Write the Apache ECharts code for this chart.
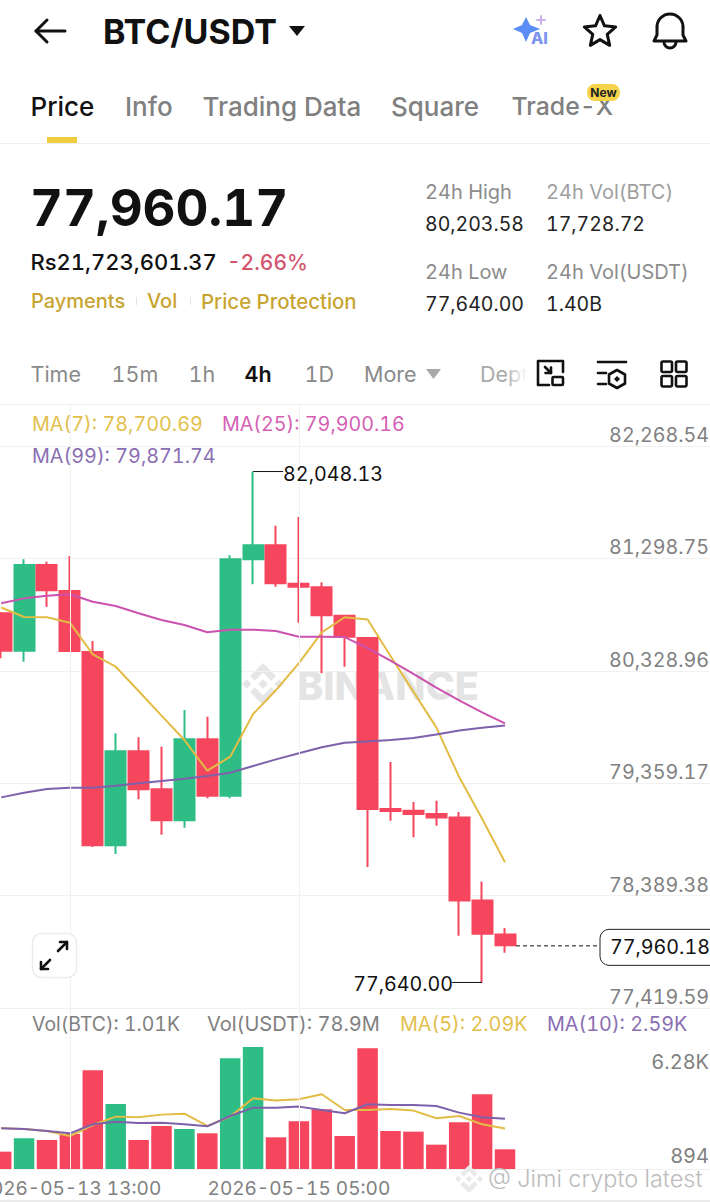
<!DOCTYPE html>
<html><head><meta charset="utf-8">
<style>html,body{margin:0;padding:0;background:#fff}#c{width:710px;height:1202px}
text{font-variant-numeric:tabular-nums !important}</style>
<script src="https://cdn.jsdelivr.net/npm/echarts@6/dist/echarts.min.js"></script>
</head><body><div id="c"></div>
<script>
const times = ['2026-05-13 01:00','2026-05-13 05:00','2026-05-13 09:00','2026-05-13 13:00','2026-05-13 17:00','2026-05-13 21:00','2026-05-14 01:00','2026-05-14 05:00','2026-05-14 09:00','2026-05-14 13:00','2026-05-14 17:00','2026-05-14 21:00','2026-05-15 01:00','2026-05-15 05:00','2026-05-15 09:00','2026-05-15 13:00','2026-05-15 17:00','2026-05-15 21:00','2026-05-16 01:00','2026-05-16 05:00','2026-05-16 09:00','2026-05-16 13:00','2026-05-16 17:00'];
const futureSlots = ['','','','','','','','',''];
const opens  = [80825,80502,81242,81017,80491,78823,79634,79306,79039,79738,79251,81291,81412,81080,81049,80804,80612,79137,79122,79093,79063,78348,78054];
const closes = [80502,81242,81023,80500,78823,79634,79306,79039,79738,79251,81291,81412,81084,81055,80808,80623,79137,79119,79093,79063,78348,78060,77960.18];
const lows   = [80437,80407,80882,80500,78809,78748,79220,78915,78975,79229,79229,81075,81055,80744,80307,80364,78636,79036,78892,78991,78043,77640,77896];
const highs  = [80836,81291,81270,81319,80586,79790,79755,79674,79991,79933,81325,82048.13,81581,81656,81093,80810,80620,79542,79197,79207,79110,78509,78110];
const ma7  = [80875,80793,80791,80744,80471,80364,80155,79942,79732,79467,79588,79956,80163,80396,80661,80791,80772,80457,80149,79841,79412,79053,78677];
const ma25 = [80911,80954,80977,80989,80925,80888,80825,80767,80724,80661,80684,80684,80672,80623,80623,80620,80525,80416,80303,80183,80074,79971,79875];
const ma99 = [79237,79277,79309,79320,79320,79337,79358,79378,79398,79421,79449,79507,79565,79617,79669,79708,79720,79732,79749,79779,79813,79837,79858];
const volumes = [893,1580,1494,1803,5082,3348,1494,2215,2060,1837,5700,6280,1631,2455,3073,1700,6215,1957,1923,1253,2404,3846,1013];
const volMa5  = [2095,2060,1957,1700,2266,2696,2661,2799,2850,2215,2696,3640,3520,3589,3846,3039,3039,3091,3005,2610,2730,2301,2090];
const volMa10 = [2095,2060,1957,1837,2301,2438,2369,2387,2301,2198,2730,3159,3159,3211,3039,2867,3331,3297,3297,3245,2902,2661,2590];
const priceTicks = [77419.59,78389.38,79359.17,80328.96,81298.75,82268.54];
const volTicks = [894,6280];
const volTickNames = {894:'894',6280:'6.28K'};
const dateLabelIndexes = [3,13];
const lastPrice = 77960.18, highPrice = 82048.13, lowPrice = 77640.00;

const FONT = 'Inter, "Noto Sans", sans-serif';
const RED='#F6465D', GREEN='#2EBD85', C7='#E3BC45', C25='#CB52AE', C99='#7F60AA';
const GRID='#f1f1f1', LABEL='#808080';

const categories = times.concat(futureSlots);
const candleData = opens.map((o,i)=>[o,closes[i],lows[i],highs[i]]);
const isDate = i => dateLabelIndexes.indexOf(i)>=0;

/* UI helpers */
const g = [];
function T(text,x,y,size,fill,weight,align,z){g.push({type:'text',z:z==null?50:z,silent:true,x,y,style:{text,fill,fontFamily:FONT,fontSize:size,fontWeight:weight||400,textAlign:align||'left',textVerticalAlign:'middle',align:align||'left',verticalAlign:'middle'}});}
function P(points,stroke,w){g.push({type:'polyline',z:50,silent:true,shape:{points},style:{stroke,lineWidth:w||2.5,fill:null,lineJoin:'round',lineCap:'round'}});}
function PG(points,fill,z,stroke,w){g.push({type:'polygon',z:z==null?50:z,silent:true,shape:{points},style:stroke?{stroke,lineWidth:w,fill:'#fff',lineJoin:'round'}:{fill}});}
function R(x,y,w,h,r,fill,stroke,lw,z){g.push({type:'rect',z:z==null?50:z,silent:true,shape:{x,y,width:w,height:h,r},style:{fill:fill||null,stroke:stroke||null,lineWidth:lw||0}});}
function logo(cx,cy,size,fill,z){
  const s=size/126.61,ox=cx-size/2,oy=cy-size/2;
  const M=a=>a.map(p=>[ox+p[0]*s,oy+p[1]*s]);
  PG(M([[38.73,53.2],[63.3,28.63],[87.88,53.21],[102.18,38.91],[63.3,0],[24.43,38.87]]),fill,z);
  PG(M([[0,63.31],[14.3,49],[28.6,63.3],[14.3,77.6]]),fill,z);
  PG(M([[38.73,73.41],[63.3,98],[87.88,73.4],[102.19,87.69],[63.3,126.61],[24.43,87.74]]),fill,z);
  PG(M([[98,63.31],[112.3,49],[126.61,63.3],[112.31,77.61]]),fill,z);
  PG(M([[63.3,48.8],[77.8,63.3],[63.3,77.79],[48.81,63.27]]),fill,z);
}
/* header */
P([[47,20],[36,31],[47,42]],'#111',3); P([[36,31],[65,31]],'#111',3);
T('BTC/USDT',103,31,34,'#111',700);
PG([[289,26],[305,26],[297,36]],'#111');
PG([[526,17],[530,25],[540,29],[530,33],[526,42],[522,33],[513,29],[522,25]],'#5B8DF6');
P([[541,16],[541,24]],'#CDB0EC',2); P([[537,20],[545,20]],'#CDB0EC',2);
T('AI',531,38,16,'#7C93EE',800);
const star=[];for(let i=0;i<10;i++){const r=i%2?7.6:16.5,a=-Math.PI/2+i*Math.PI/5;star.push([600+r*Math.cos(a),32+r*Math.sin(a)]);}
PG(star,null,50,'#111',3);
g.push({type:'arc',z:50,silent:true,shape:{cx:670,cy:27,r:13,startAngle:Math.PI,endAngle:0,clockwise:true},style:{stroke:'#111',lineWidth:3,fill:null}});
P([[657,27],[657,35],[654,41],[686,41],[683,35],[683,27]],'#111',3);
g.push({type:'arc',z:50,silent:true,shape:{cx:670,cy:42,r:6,startAngle:0,endAngle:Math.PI,clockwise:true},style:{stroke:'#111',lineWidth:3,fill:null}});
/* tabs */
T('Price',30.5,106,26,'#111',500);
T('Info',125,106,26,LABEL,500);
T('Trading Data',202.5,106,26,LABEL,500);
T('Square',391,106,26,LABEL,500);
T('Trade-X',511.5,106,24.8,LABEL,500);
R(587,84,33,17,8,'#F5D34A');
T('New',603.5,92,12,'#222',700,'center');
R(47,137,30,6,0,'#F0CD3C');
R(0,143,710,1,0,'#eeeeee');
/* price block */
T('77,960.17',30,207,51,'#111',700);
T('Rs21,723,601.37',30.5,262,22,'#111',500);
T('-2.66%',227,262,21,'#D2566E',500);
T('Payments',31,301,20,'#C8A430',500);
R(136,297,1,8,0,'#e4e4e4');
T('Vol',147,301,20,'#C8A430',500);
R(190,297,1,8,0,'#e4e4e4');
T('Price Protection',201,301,20.4,'#C8A430',500);
T('24h High',425,192,20,'#8c8c8c');
T('80,203.58',425,224,19.5,'#222');
T('24h Vol(BTC)',546,192,20,'#a0a0a0');
T('17,728.72',546,224,19.5,'#222');
T('24h Low',425,272,20,'#8c8c8c');
T('77,640.00',425,304,19.5,'#222');
T('24h Vol(USDT)',546,272,20,'#8c8c8c');
T('1.40B',546,304,19.5,'#222');
/* intervals */
T('Time',30.5,374,21.5,'#8a8a8a');
T('15m',111.5,374,21.5,'#8a8a8a');
T('1h',188.5,374,21.5,'#8a8a8a');
T('4h',244.5,374,21.5,'#111',600);
T('1D',304.5,374,21.5,'#8a8a8a');
T('More',364,374,21.5,'#8a8a8a');
PG([[426,369],[441,369],[433.5,379]],'#a8a8a8');
T('Depth',480,374,21.5,'#a9a9a9',400,'left',47);
g.push({type:'rect',z:48,silent:true,shape:{x:505,y:360,width:32,height:28},style:{fill:{type:'linear',x:0,y:0,x2:1,y2:0,colorStops:[{offset:0,color:'rgba(255,255,255,0)'},{offset:.7,color:'#fff'},{offset:1,color:'#fff'}]}}});
g.push({type:'rect',z:48,silent:true,shape:{x:537,y:360,width:30,height:28},style:{fill:'#fff'}});
P([[549,385],[538,385],[538,361],[563,361],[563,372]],'#111',2.6);
R(552.5,377,10.5,8,1,null,'#111',2.6);
P([[545,367],[551,373]],'#111',2.6);P([[551,367.5],[551,373],[545.5,373]],'#111',2.6);
P([[598,362],[626,362]],'#111',2.6);P([[598,373],[606,373]],'#111',2.6);P([[598,384],[606,384]],'#111',2.6);
PG([[617,370],[625,374.5],[625,383.5],[617,388],[609,383.5],[609,374.5]],null,50,'#111',2.6);
PG([[617,376],[620,379],[617,382],[614,379]],'#111');
R(661.5,361.5,10.5,10.5,1.5,null,'#111',2.6);R(676,361.5,10.5,10.5,1.5,null,'#111',2.6);
R(661.5,376,10.5,10.5,1.5,null,'#111',2.6);R(676,376,10.5,10.5,1.5,null,'#111',2.6);
R(0,404,710,1,0,'#f0f0f0');
/* legends */
T('MA(7): 78,700.69',32,424,19.8,'#E3C04D');
T('MA(25): 79,900.16',222,424,19.7,'#D55FB5');
T('MA(99): 79,871.74',32,456,19.8,'#8A6FB3');
T('Vol(BTC): 1.01K',32,1024,19.4,'#808080');
T('Vol(USDT): 78.9M',207,1024,20,'#808080');
T('MA(5): 2.09K',400,1024,19.8,'#E3C04D');
T('MA(10): 2.59K',547,1024,19.8,'#8A6FB3');
/* fullscreen button */
R(32.5,933.5,44,44,9,'#fff','#ececec',1.5);
P([[41,969],[50,960]],'#111',2.6);P([[41,962],[41,969],[48,969]],'#111',2.6);
P([[58,951],[67,942]],'#111',2.6);P([[60,942],[67,942],[67,949]],'#111',2.6);
/* watermarks */
logo(263,684,42,'#e6e6e6',0);
g.push({type:'text',z:0,silent:true,x:297,y:686,style:{text:'BINANCE',fill:'#e4e4e4',fontFamily:FONT,fontSize:39.5,fontWeight:800,textVerticalAlign:'middle',verticalAlign:'middle'}});
logo(469,1179,28,'#e9e9e9',60);
T('@ Jimi crypto latest',488,1178,23.5,'#bcbcbc',300,'left',60);
R(0,1200,710,2,0,'#ececec');

/* annotation series: leader lines and last-price tag */
function notes(params,api){
  const kind=api.value(2),c=api.coord([api.value(0),api.value(1)]),x=c[0],y=c[1];
  const base={fontFamily:FONT,fontSize:19.7,fill:'#111'};
  const txt=api.value(1).toLocaleString('en-US',{minimumFractionDigits:2});
  if(kind===0){return {type:'group',children:[
    {type:'line',shape:{x1:x,y1:y,x2:x+30,y2:y},style:{stroke:'#111',lineWidth:1}},
    {type:'text',x:x+30,y:y+2,style:Object.assign({text:txt,textVerticalAlign:'middle',verticalAlign:'middle'},base)}]};}
  if(kind===1){return {type:'group',children:[
    {type:'line',shape:{x1:x,y1:y,x2:x-30,y2:y},style:{stroke:'#111',lineWidth:1}},
    {type:'text',x:x-29,y:y+2,style:Object.assign({text:txt,textAlign:'right',align:'right',textVerticalAlign:'middle',verticalAlign:'middle'},base)}]};}
  return {type:'group',children:[
    {type:'line',shape:{x1:x+11,y1:y+.5,x2:600,y2:y+.5},style:{stroke:'#111',lineWidth:1,lineDash:[4,3]}},
    {type:'rect',shape:{x:600,y:y-16,width:130,height:36,r:9},style:{fill:'#fff',stroke:'#222',lineWidth:1}},
    {type:'text',x:610,y:y+2,style:Object.assign({text:txt,textVerticalAlign:'middle',verticalAlign:'middle'},base)}]};
}

const GL=-10.25, GW=732.8;
const xBase={type:'category',data:categories,boundaryGap:true,axisLine:{show:false},axisTick:{show:false},splitLine:{show:false}};
const line=(name,data,color,xi)=>({name,type:'line',xAxisIndex:xi,yAxisIndex:xi===0?0:1,data,symbol:'none',smooth:false,lineStyle:{color,width:2},z:4,silent:true});
const guides=(xi)=>({name:'Date guides '+xi,type:'line',xAxisIndex:xi,yAxisIndex:xi===0?0:1,data:[],z:1,silent:true,
  markLine:{silent:true,symbol:'none',animation:false,label:{show:false},lineStyle:{color:GRID,width:1,type:'solid'},
    data:dateLabelIndexes.map(i=>({xAxis:times[i]}))}});

const option={
  animation:false,backgroundColor:'#fff',
  graphic:{elements:g},
  grid:[
    {left:GL,width:GW,top:404,height:604,outerBoundsMode:'none'},
    {left:GL,width:GW,top:1009,height:160,outerBoundsMode:'none'}
  ],
  xAxis:[
    Object.assign({},xBase,{gridIndex:0,axisLabel:{show:false}}),
    Object.assign({},xBase,{gridIndex:1,axisLabel:{show:true,interval:(i)=>isDate(i),hideOverlap:false,margin:9,color:LABEL,fontFamily:FONT,fontSize:19,
       formatter:(v)=>v,lineHeight:20,alignMinLabel:'center',alignMaxLabel:'center'}})
  ],
  yAxis:[
    {type:'value',gridIndex:0,position:'right',min:77419.59,max:82630.9,scale:true,
     axisLine:{show:false},axisTick:{show:false,customValues:priceTicks},
     splitLine:{show:true,lineStyle:{color:GRID,width:1}},
     axisLabel:{customValues:priceTicks,inside:true,margin:13.5,color:LABEL,fontFamily:FONT,fontSize:19.7,verticalAlign:'bottom',lineHeight:22,showMinLabel:true,showMaxLabel:true,
       formatter:(v)=>v.toLocaleString('en-US',{minimumFractionDigits:2})}},
    {type:'value',gridIndex:1,position:'right',min:0,max:8236,
     axisLine:{show:false},axisTick:{show:false,customValues:[0]},
     splitLine:{show:true,lineStyle:{color:GRID,width:1}},axisLabel:{show:false}},
    {type:'value',gridIndex:1,position:'right',min:150,max:9318,
     axisLine:{show:false},axisTick:{show:false,customValues:volTicks},splitLine:{show:false},
     axisLabel:{customValues:volTicks,inside:true,margin:13.5,color:LABEL,fontFamily:FONT,fontSize:20,showMinLabel:true,showMaxLabel:true,
       formatter:(v)=>volTickNames[v]||String(v)}}
  ],
  series:[
    guides(0),guides(1),
    {name:'BTC/USDT',type:'candlestick',xAxisIndex:0,yAxisIndex:0,data:candleData,barWidth:20.5,z:3,silent:true,
     itemStyle:{color:GREEN,color0:RED,borderColor:GREEN,borderColor0:RED,borderWidth:2}},
    line('MA(7)',ma7,C7,0),
    line('MA(25)',ma25,C25,0),
    line('MA(99)',ma99,C99,0),
    {name:'Notes',type:'custom',xAxisIndex:0,yAxisIndex:0,clip:false,z:30,silent:true,renderItem:notes,
     encode:{x:0,y:1},
     data:[[times.length-12,highPrice,0],[times.length-2,lowPrice,1],[times.length-1,lastPrice,2]]},
    {name:'Vol(BTC)',type:'bar',xAxisIndex:1,yAxisIndex:1,barWidth:20.5,z:3,silent:true,
     data:volumes.map((v,i)=>({value:v,itemStyle:{color:closes[i]>opens[i]?GREEN:RED}}))},
    line('MA(5)',volMa5,C7,1),
    line('MA(10)',volMa10,C99,1)
  ]
};
echarts.init(document.getElementById('c'),null,{renderer:'svg',width:710,height:1202}).setOption(option);
</script></body></html>
